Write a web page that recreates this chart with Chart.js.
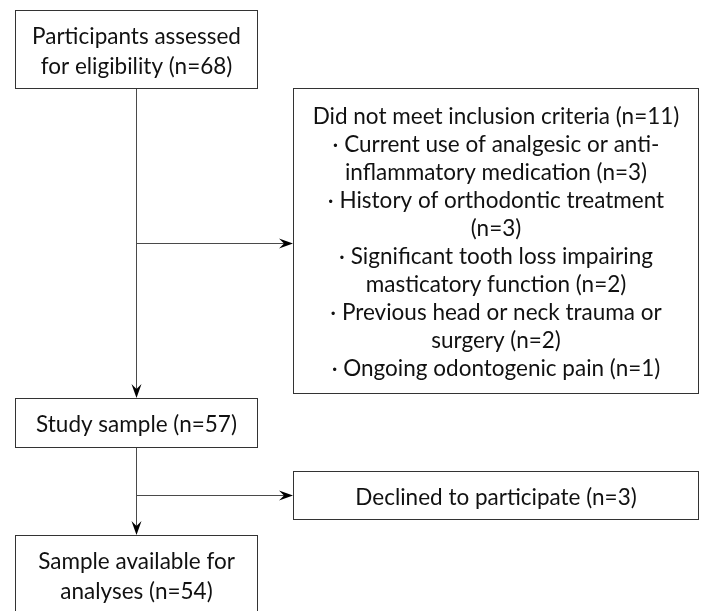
<!DOCTYPE html>
<html>
<head>
<meta charset="utf-8">
<script src="https://cdn.jsdelivr.net/npm/chart.js@4.4.1/dist/chart.umd.min.js"></script>
<style>
    html, body { margin: 0; padding: 0; background: #fff; }
    #wrap { width: 701px; height: 611px; }
</style>
</head>
<body>
<div id="wrap"><canvas id="flow" width="701" height="611"></canvas></div>
<script>
// flow data
const stageLabels = ['Participants assessed for eligibility', 'Study sample', 'Sample available for analyses'];
const stageCounts = [68, 57, 54];
const exclusionLabels = ['Did not meet inclusion criteria', 'Declined to participate'];
const exclusionCounts = [11, 3];
const reasonLabels = [
    'Current use of analgesic or anti-inflammatory medication',
    'History of orthodontic treatment',
    'Significant tooth loss impairing masticatory function',
    'Previous head or neck trauma or surgery',
    'Ongoing odontogenic pain'
];
const reasonCounts = [3, 3, 2, 2, 1];

// layout (chart units == pixels)
const leftCol = { x0: 15, x1: 257 };
const rightCol = { x0: 293, x1: 698 };
const stageRows = [[10, 88], [398, 447], [535, 613]];
const exclusionRows = [[88, 393], [471, 519]];
const branchY = [243, 495];
const FONT = '22.5px Lato';
const LINE_COLOR = '#4a4a4a';

const withN = (label, n) => label + ' (n=' + n + ')';

function wrap(ctx, text, maxWidth) {
    // break on spaces and after hyphens
    const parts = text.match(/[^\s-]+-?|\s+/g).filter(p => p.trim() !== '');
    const tokens = [];
    let rest = text;
    parts.forEach(p => {
        const i = rest.indexOf(p);
        tokens.push({ t: p, space: i > 0 });
        rest = rest.slice(i + p.length);
    });
    const lines = [];
    let cur = '';
    tokens.forEach(tok => {
        const next = cur === '' ? tok.t : cur + (tok.space ? ' ' : '') + tok.t;
        if (cur !== '' && ctx.measureText(next).width > maxWidth) {
            lines.push(cur);
            cur = tok.t;
        } else {
            cur = next;
        }
    });
    if (cur) lines.push(cur);
    return lines;
}

function arrowHead(ctx, x, y, dir) {
    ctx.save();
    ctx.translate(x, y);
    ctx.rotate(dir);
    ctx.beginPath();
    ctx.moveTo(0, 0);
    ctx.lineTo(-14, -5);
    ctx.lineTo(-9, 0);
    ctx.lineTo(-14, 5);
    ctx.closePath();
    ctx.fillStyle = '#000';
    ctx.fill();
    ctx.restore();
}

const flowPlugin = {
    id: 'flow',
    afterDraw(chart) {
        const ctx = chart.ctx;
        const sx = v => chart.scales.x.getPixelForValue(v);
        const sy = v => chart.scales.y.getPixelForValue(v);
        ctx.save();
        ctx.font = FONT;
        ctx.textAlign = 'center';
        ctx.textBaseline = 'middle';

        const drawBox = (col, row, lines, lineHeight) => {
            const x0 = Math.round(sx(col.x0)) + 0.5, x1 = Math.round(sx(col.x1)) + 0.5;
            const y0 = Math.round(sy(row[0])) + 0.5, y1 = Math.round(sy(row[1])) + 0.5;
            ctx.fillStyle = '#fff';
            ctx.fillRect(x0, y0, x1 - x0, y1 - y0);
            ctx.strokeStyle = '#333';
            ctx.lineWidth = 1;
            ctx.strokeRect(x0, y0, x1 - x0, y1 - y0);
            const cx = (x0 + x1) / 2, cy = (y0 + y1) / 2 + 2;
            ctx.fillStyle = '#111';
            lines.forEach((l, i) => {
                ctx.fillText(l, cx, cy + (i - (lines.length - 1) / 2) * lineHeight);
            });
        };

        // connectors
        const mid = Math.round(sx((leftCol.x0 + leftCol.x1) / 2)) + 0.5;
        ctx.strokeStyle = LINE_COLOR;
        ctx.lineWidth = 1;
        ctx.beginPath();
        for (let i = 0; i < stageRows.length - 1; i++) {
            ctx.moveTo(mid, sy(stageRows[i][1]));
            ctx.lineTo(mid, sy(stageRows[i + 1][0]) - 6);
            const by = Math.round(sy(branchY[i])) + 0.5;
            ctx.moveTo(mid, by);
            ctx.lineTo(sx(rightCol.x0) - 6, by);
        }
        ctx.stroke();
        for (let i = 0; i < stageRows.length - 1; i++) {
            arrowHead(ctx, mid, sy(stageRows[i + 1][0]), Math.PI / 2);
            arrowHead(ctx, sx(rightCol.x0), Math.round(sy(branchY[i])) + 0.5, 0);
        }

        // stage boxes
        stageLabels.forEach((label, i) => {
            const lines = wrap(ctx, withN(label, stageCounts[i]), leftCol.x1 - leftCol.x0 - 20);
            drawBox(leftCol, stageRows[i], lines, 30);
        });

        // exclusion boxes
        exclusionLabels.forEach((label, i) => {
            const maxW = rightCol.x1 - rightCol.x0 - 20;
            let lines = [withN(label, exclusionCounts[i])];
            if (i === 0) {
                reasonLabels.forEach((r, j) => {
                    lines = lines.concat(wrap(ctx, '\u00B7 ' + withN(r, reasonCounts[j]), maxW));
                });
            }
            drawBox(rightCol, exclusionRows[i], lines, 28);
        });
        ctx.restore();
    }
};

document.fonts.load(FONT).then(() => {
    new Chart(document.getElementById('flow'), {
        type: 'scatter',
        data: { datasets: [{ data: [], pointRadius: 0 }] },
        options: {
            responsive: false,
            animation: false,
            layout: { padding: 0 },
            plugins: { legend: { display: false }, tooltip: { enabled: false } },
            scales: {
                x: { type: 'linear', min: 0, max: 701, display: false },
                y: { type: 'linear', min: 0, max: 611, reverse: true, display: false }
            }
        },
        plugins: [flowPlugin]
    });
});
</script>
</body>
</html>
